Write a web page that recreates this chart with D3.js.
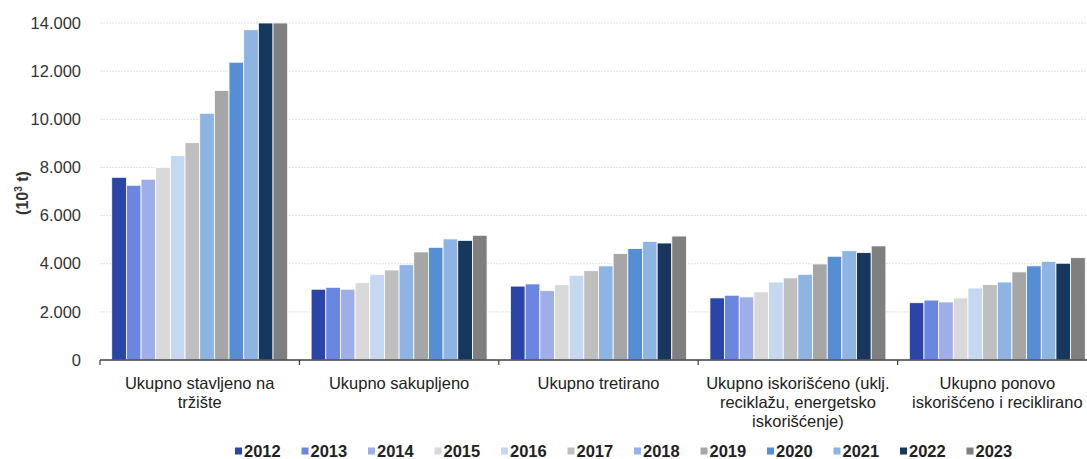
<!DOCTYPE html>
<html>
<head>
<meta charset="utf-8">
<script src="https://cdn.jsdelivr.net/npm/d3@7"></script>
<style>
  body { margin: 0; background: #fff; }
  svg { font-family: "Liberation Sans", Arial, sans-serif; }
</style>
</head>
<body>
<script>
// categories and series
var categories = [
  ["Ukupno stavljeno na", "tržište"],
  ["Ukupno sakupljeno"],
  ["Ukupno tretirano"],
  ["Ukupno iskorišćeno (uklj.", "reciklažu, energetsko", "iskorišćenje)"],
  ["Ukupno ponovo", "iskorišćeno i reciklirano"]
];
var years = ["2012", "2013", "2014", "2015", "2016", "2017", "2018", "2019", "2020", "2021", "2022", "2023"];
var colors = ["#2a44a8", "#6b86de", "#9eaee8", "#d9d9d9", "#c6d8f0", "#bfbfbf",
              "#8eb4e3", "#a6a6a6", "#558ed5", "#8eb4e3", "#17375e", "#7f7f7f"];

// values per category, one per year (10^3 t)
var stavljeno   = [7590, 7260, 7510, 8000, 8490, 9030, 10250, 11200, 12370, 13720, 14000, 14000];
var sakupljeno  = [2940, 3020, 2940, 3210, 3560, 3740, 3960, 4490, 4680, 5030, 4970, 5180];
var tretirano   = [3070, 3160, 2880, 3130, 3520, 3710, 3910, 4420, 4630, 4930, 4860, 5150];
var iskorisceno = [2580, 2690, 2620, 2830, 3240, 3410, 3560, 3990, 4310, 4540, 4460, 4740];
var reciklirano = [2380, 2490, 2410, 2580, 2990, 3130, 3240, 3660, 3910, 4100, 4020, 4250];
var series = [stavljeno, sakupljeno, tretirano, iskorisceno, reciklirano];

var yTicks = [0, 2000, 4000, 6000, 8000, 10000, 12000, 14000];

var width = 1087, height = 459;
var margin = {left: 100, top: 23, bottom: 99};
var plotRight = 1097;

var svg = d3.select("body").append("svg").attr("width", width).attr("height", height);

var x0 = d3.scaleBand().domain(d3.range(categories.length)).range([margin.left, plotRight]).paddingInner(0).paddingOuter(0);
var x1 = d3.scaleBand().domain(years).range([0, x0.bandwidth()]).paddingOuter(0.8).paddingInner(0);
var y = d3.scaleLinear().domain([0, 14000]).range([height - margin.bottom, margin.top]);

var fmt = function(v) { return v === 0 ? "0" : d3.format(",")(v).replace(/,/g, "."); };

// gridlines
svg.append("g").selectAll("line").data(yTicks.filter(function(d) { return d > 0; })).enter()
  .append("line")
  .attr("x1", margin.left).attr("x2", width)
  .attr("y1", function(d) { return y(d); }).attr("y2", function(d) { return y(d); })
  .attr("stroke", "#e0e0e0").attr("stroke-width", 1).attr("stroke-dasharray", "2,1");

// y tick labels
svg.append("g").selectAll("text").data(yTicks).enter()
  .append("text")
  .attr("x", 81).attr("y", function(d) { return y(d); })
  .attr("dy", "0.35em").attr("text-anchor", "end")
  .attr("font-size", 16.5).attr("fill", "#333")
  .text(fmt);

// y title
var yt = svg.append("text")
  .attr("transform", "translate(28,193) rotate(-90)")
  .attr("text-anchor", "middle").attr("font-size", 16).attr("font-weight", "bold").attr("fill", "#333");
yt.append("tspan").text("(10");
yt.append("tspan").attr("dy", -6).attr("font-size", 10).text("3");
yt.append("tspan").attr("dy", 6).text(" t)");

// bars
var groups = svg.append("g").selectAll("g").data(series).enter()
  .append("g")
  .attr("transform", function(d, i) { return "translate(" + x0(i) + ",0)"; });

groups.selectAll("rect").data(function(d) { return d; }).enter()
  .append("rect")
  .attr("x", function(d, i) { return x1(years[i]); })
  .attr("y", function(d) { return y(d); })
  .attr("width", x1.bandwidth())
  .attr("height", function(d) { return y(0) - y(d); })
  .attr("fill", function(d, i) { return colors[i]; })
  .attr("stroke", "#fff").attr("stroke-width", 0.8);

// x axis
var xAxis = svg.append("g");
xAxis.append("line")
  .attr("x1", margin.left).attr("x2", width)
  .attr("y1", y(0)).attr("y2", y(0))
  .attr("stroke", "#404040").attr("stroke-width", 1.5);
xAxis.selectAll("line.tick").data(d3.range(categories.length + 1)).enter()
  .append("line").attr("class", "tick")
  .attr("x1", function(i) { return margin.left + i * x0.bandwidth(); })
  .attr("x2", function(i) { return margin.left + i * x0.bandwidth(); })
  .attr("y1", y(0)).attr("y2", y(0) + 5)
  .attr("stroke", "#404040").attr("stroke-width", 1.2);

var labels = xAxis.selectAll("text.cat").data(categories).enter()
  .append("text").attr("class", "cat")
  .attr("text-anchor", "middle").attr("font-size", 16.5).attr("fill", "#222");
labels.selectAll("tspan").data(function(d, i) { return d.map(function(t) { return {t: t, i: i}; }); }).enter()
  .append("tspan")
  .attr("x", function(d) { return x0(d.i) + x0.bandwidth() / 2; })
  .attr("y", function(d, j) { return 389 + j * 19; })
  .text(function(d) { return d.t; });

// legend
var legend = svg.append("g").selectAll("g").data(years).enter()
  .append("g")
  .attr("transform", function(d, i) { return "translate(" + (235 + i * 66.5) + ",451)"; });
legend.append("rect")
  .attr("x", 0).attr("y", -3.5).attr("width", 7).attr("height", 7)
  .attr("fill", function(d, i) { return colors[i]; });
legend.append("text")
  .attr("x", 9).attr("dy", "0.35em")
  .attr("font-size", 16.5).attr("font-weight", "bold").attr("fill", "#222")
  .text(function(d) { return d; });
</script>
</body>
</html>
